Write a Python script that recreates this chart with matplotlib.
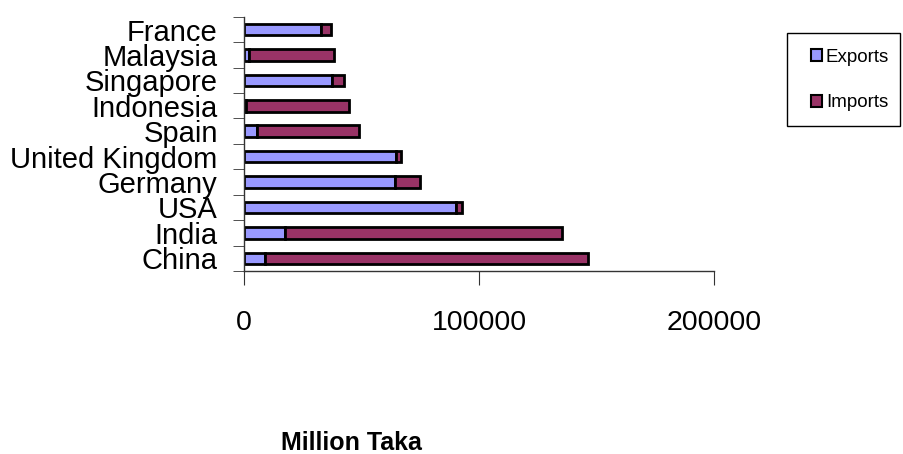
import numpy as np
import matplotlib.pyplot as plt
from matplotlib.patches import Rectangle

plt.rcParams['font.family'] = ['Liberation Sans', 'DejaVu Sans']

# countries, bottom to top
countries = ['China', 'India', 'USA', 'Germany', 'United Kingdom',
             'Spain', 'Indonesia', 'Singapore', 'Malaysia', 'France']
exports = [8900, 17600, 90300, 64100, 64500, 5500, 1000, 37300, 2100, 32800]
imports = [137300, 117600, 2300, 10600, 2300, 43400, 43700, 5200, 36200, 4200]
xticks = [0, 100000, 200000]

exp_col = '#9999FF'
imp_col = '#993366'

fig = plt.figure(figsize=(9.04, 4.54), dpi=100)
ax = fig.add_axes([0.27, 0.403, 0.52, 0.56])

y = np.arange(len(countries))
ax.barh(y, exports, height=0.45, color=exp_col, edgecolor='black', linewidth=2.0)
ax.barh(y, imports, left=exports, height=0.45, color=imp_col,
        edgecolor='black', linewidth=2.0)

ax.set_xlim(0, 200000)
ax.set_ylim(-0.5, len(countries) - 0.5)
for s in ['top', 'right']:
    ax.spines[s].set_visible(False)
for s in ['left', 'bottom']:
    ax.spines[s].set_color('#333333')
    ax.spines[s].set_linewidth(1.0)

ax.set_xticks(xticks)
ax.set_xticklabels([str(v) for v in xticks], fontsize=20.5)
ax.tick_params(axis='x', direction='out', length=10, pad=18, color='#333333')

ax.set_yticks(y)
ax.set_yticklabels(countries, fontsize=21)
ax.set_yticks(np.arange(-0.5, len(countries)), minor=True)
ax.tick_params(axis='y', which='major', length=0, pad=19)
ax.tick_params(axis='y', which='minor', direction='out', length=8, color='#333333')

# legend box drawn separately so the entries can sit off-centre like Excel
box = Rectangle((787 / 904, 1 - 126 / 454), 113 / 904, 93 / 454,
                transform=fig.transFigure, facecolor='white',
                edgecolor='black', linewidth=1.0)
fig.patches.append(box)

h1 = Rectangle((0, 0), 1, 1, facecolor=exp_col, edgecolor='black', linewidth=1.5)
h2 = Rectangle((0, 0), 1, 1, facecolor=imp_col, edgecolor='black', linewidth=1.5)
leg = fig.legend([h1, h2], ['Exports', 'Imports'], loc='center left',
                 bbox_to_anchor=(811 / 904, 1 - 80 / 454), fontsize=13.5,
                 frameon=False, handlelength=0.6, handleheight=0.6,
                 handletextpad=0.2, labelspacing=1.52, borderpad=0,
                 borderaxespad=0)

fig.text(351 / 904, 1 - 443 / 454, 'Million Taka', fontsize=18, fontweight='bold',
         ha='center', va='center')

fig.savefig('out.png', dpi=100)
